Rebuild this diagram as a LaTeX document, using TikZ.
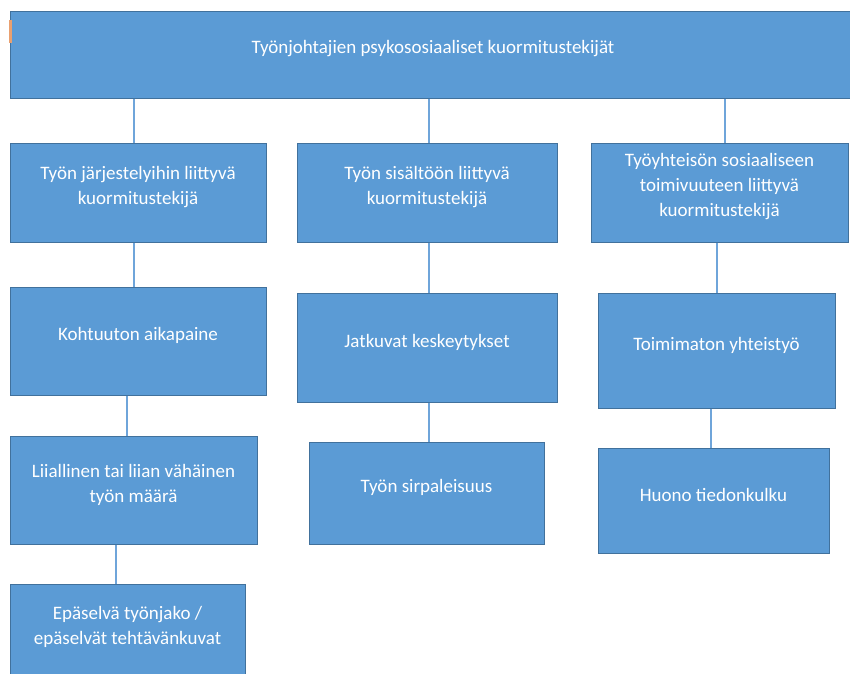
\documentclass[tikz,border=0pt]{standalone}
\usepackage{fontspec}
\setmainfont{Carlito}
\definecolor{boxfill}{HTML}{5B9BD5}
\definecolor{boxedge}{HTML}{41719C}
\definecolor{linkblue}{HTML}{6FA5DA}
\definecolor{markorange}{HTML}{E9A070}

\begin{document}
\begin{tikzpicture}[
            x=1pt, y=-1pt,
            box/.style={draw=boxedge, fill=boxfill, line width=1pt, inner sep=0pt},
            txt/.style={text=white, align=center, inner sep=0pt, font=\fontsize{19}{25}\selectfont},
            link/.style={draw=linkblue, line width=1.4pt}
            ]
            \useasboundingbox (0,0) rectangle (850,673);
            % top level
            \node[box, minimum width=846pt, minimum height=87pt] (top) at (433,54.5) {};
            \fill[markorange] (9,20) rectangle (11.5,43);
            \node[txt] (topt) at ([yshift=5.5pt]top.center) {Työnjohtajien psykososiaaliset kuormitustekijät};
            % second level
            \node[box, minimum width=256pt, minimum height=99pt] (jarj) at (138,192.5) {};
            \node[box, minimum width=260pt, minimum height=99pt] (sisal) at (427,192.5) {};
            \node[box, minimum width=257pt, minimum height=99pt] (yhteis) at (719.5,192.5) {};
            \node[txt] (jarjt) at ([yshift=5.5pt]jarj.center) {Työn järjestelyihin liittyvä\\kuormitustekijä};
            \node[txt] (sisalt) at ([yshift=5.5pt]sisal.center) {Työn sisältöön liittyvä\\kuormitustekijä};
            \node[txt] (yhteist) at ([yshift=5.5pt]yhteis.center) {Työyhteisön sosiaaliseen\\toimivuuteen liittyvä\\kuormitustekijä};
            % third level
            \node[box, minimum width=256pt, minimum height=108pt] (aika) at (138,341) {};
            \node[box, minimum width=260pt, minimum height=109pt] (keskeyt) at (427,347.5) {};
            \node[box, minimum width=237pt, minimum height=115pt] (yhteisty) at (716.5,350.5) {};
            \node[txt] (aikat) at ([yshift=5.5pt]aika.center) {Kohtuuton aikapaine};
            \node[txt] (keskeytt) at ([yshift=5.5pt]keskeyt.center) {Jatkuvat keskeytykset};
            \node[txt] (yhteistyt) at ([yshift=5.5pt]yhteisty.center) {Toimimaton yhteistyö};
            % fourth level
            \node[box, minimum width=247pt, minimum height=108pt] (maara) at (133.5,490) {};
            \node[box, minimum width=235pt, minimum height=102pt] (sirpale) at (426.5,493) {};
            \node[box, minimum width=231pt, minimum height=105pt] (tieto) at (713.5,500.5) {};
            \node[txt] (maarat) at ([yshift=5.5pt]maara.center) {Liiallinen tai liian vähäinen\\työn määrä};
            \node[txt] (sirpalet) at ([yshift=5.5pt]sirpale.center) {Työn sirpaleisuus};
            \node[txt] (tietot) at ([yshift=5.5pt]tieto.center) {Huono tiedonkulku};
            % fifth level
            \node[box, minimum width=235pt, minimum height=104pt] (jako) at (127.5,636) {};
            \node[txt] (jakot) at (127.5,627) {Epäselvä työnjako /\\epäselvät tehtävänkuvat};
            % connectors
            \draw[link] (top.south -| 134,0) -- (jarj.north -| 134,0);
            \draw[link] (top.south -| 429,0) -- (sisal.north -| 429,0);
            \draw[link] (top.south -| 725,0) -- (yhteis.north -| 725,0);
            \draw[link] (jarj.south -| 134,0) -- (aika.north -| 134,0);
            \draw[link] (sisal.south -| 429,0) -- (keskeyt.north -| 429,0);
            \draw[link] (yhteis.south -| 717,0) -- (yhteisty.north -| 717,0);
            \draw[link] (aika.south -| 127,0) -- (maara.north -| 127,0);
            \draw[link] (keskeyt.south -| 429,0) -- (sirpale.north -| 429,0);
            \draw[link] (yhteisty.south -| 711,0) -- (tieto.north -| 711,0);
            \draw[link] (maara.south -| 116,0) -- (jako.north -| 116,0);
\end{tikzpicture}
\end{document}
